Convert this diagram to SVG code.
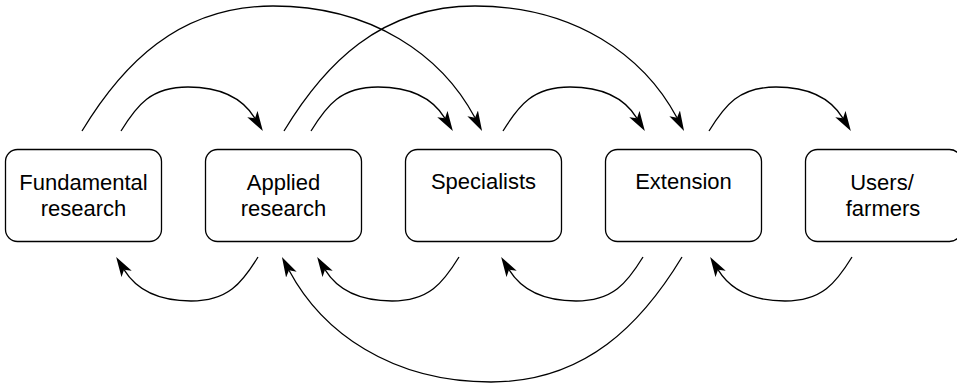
<svg xmlns="http://www.w3.org/2000/svg" width="957" height="387" viewBox="0 0 957 387">
<defs>
<style>
.box{fill:#fff;stroke:#000;stroke-width:1.3}
.lbl{font-family:"Liberation Sans",Arial,Helvetica,sans-serif;font-size:22px;fill:#000;text-anchor:middle}
.edge{fill:none;stroke:#000;stroke-width:1.3;marker-end:url(#ah)}
</style>
<marker id="ah" markerUnits="userSpaceOnUse" markerWidth="22" markerHeight="14" viewBox="0 -7 22 14" refX="5" refY="0" orient="auto">
<path d="M20,0 L0,-6 L5,0 L0,6 Z" fill="#000"/>
</marker>
</defs>
<rect width="957" height="387" fill="#fff"/>
<g id="connectors">
<path class="edge" d="M121,131 c16,-26 30,-44 67,-44 c37,0 57,15 67,31.3"/>
<path class="edge" d="M311,131 c16,-26 30,-44 67,-44 c37,0 57,15 67,31.3"/>
<path class="edge" d="M503,131 c16,-26 30,-44 67,-44 c37,0 57,15 67,31.3"/>
<path class="edge" d="M709,131 c16,-26 30,-44 67,-44 c37,0 57,15 67,31.3"/>
<path class="edge" d="M82,131 c40,-66 96,-125 191,-125 c100,0 169,50 202,111.8"/>
<path class="edge" d="M284,131 c40,-66 96,-125 191,-125 c100,0 169,50 202,111.8"/>
<path class="edge" d="M258,257 c-16,26 -30,44 -67,44 c-37,0 -57,-15 -67,-31.3"/>
<path class="edge" d="M459,257 c-16,26 -30,44 -67,44 c-37,0 -57,-15 -67,-31.3"/>
<path class="edge" d="M643,257 c-16,26 -30,44 -67,44 c-37,0 -57,-15 -67,-31.3"/>
<path class="edge" d="M852,257 c-16,26 -30,44 -67,44 c-37,0 -57,-15 -67,-31.3"/>
<path class="edge" d="M682,257 c-40,66 -96,125 -191,125 c-100,0 -169,-50 -202,-111.8"/>
</g>
<g id="fundamental">
<rect class="box" x="5.5" y="149.5" width="156" height="92" rx="12"/>
<text class="lbl" x="83.5" y="190">Fundamental</text>
<text class="lbl" x="83.5" y="215.5">research</text>
</g>
<g id="applied">
<rect class="box" x="205.5" y="149.5" width="156" height="92" rx="12"/>
<text class="lbl" x="283.5" y="190">Applied</text>
<text class="lbl" x="283.5" y="215.5">research</text>
</g>
<g id="specialists">
<rect class="box" x="405.5" y="149.5" width="156" height="92" rx="12"/>
<text class="lbl" x="483.5" y="189">Specialists</text>
</g>
<g id="extension">
<rect class="box" x="605.5" y="149.5" width="156" height="92" rx="12"/>
<text class="lbl" x="683.5" y="189">Extension</text>
</g>
<g id="users">
<rect class="box" x="805.5" y="149.5" width="156" height="92" rx="12"/>
<text class="lbl" x="882" y="190">Users/</text>
<text class="lbl" x="883" y="215.5">farmers</text>
</g>
</svg>
